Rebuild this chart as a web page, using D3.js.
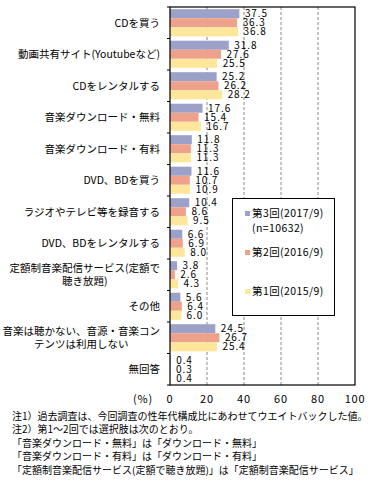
<!DOCTYPE html>
<html>
<head>
<meta charset="utf-8">
<script src="https://cdn.jsdelivr.net/npm/d3@7"></script>
<style>
  body { margin: 0; background: #fff; }
  svg { font-family: "Noto Sans CJK JP", sans-serif; }
  .val { font-size: 10px; letter-spacing: 0.9px; }
  .cat { font-size: 10.5px; }
  .leg { font-size: 10.5px; letter-spacing: 0.4px; }
  .tick-lbl { font-size: 11px; letter-spacing: 0.8px; }
  .note { font-size: 10px; }
</style>
</head>
<body>
<script>
// categories (multi-line labels split into lines)
var categories = [
    ["CDを買う"],
    ["動画共有サイト(Youtubeなど)"],
    ["CDをレンタルする"],
    ["音楽ダウンロード・無料"],
    ["音楽ダウンロード・有料"],
    ["DVD、BDを買う"],
    ["ラジオやテレビ等を録音する"],
    ["DVD、BDをレンタルする"],
    ["定額制音楽配信サービス(定額で", "聴き放題)"],
    ["その他"],
    ["音楽は聴かない、音源・音楽コン", "テンツは利用しない"],
    ["無回答"]
];

var round3 = [37.5, 31.8, 25.2, 17.6, 11.8, 11.6, 10.4, 6.6, 3.8, 5.6, 24.5, 0.4];
var round2 = [36.3, 27.6, 26.2, 15.4, 11.3, 10.7, 8.6, 6.9, 2.6, 6.4, 26.7, 0.3];
var round1 = [36.8, 25.5, 28.2, 16.7, 11.3, 10.9, 9.5, 8.0, 4.3, 6.0, 25.4, 0.4];

var seriesNames = ["第3回(2017/9)", "第2回(2016/9)", "第1回(2015/9)"];
var seriesColors = ["#9ba1c8", "#eea28c", "#fee69a"];
var xTicks = [0, 20, 40, 60, 80, 100];

var notes = [
    "注1）過去調査は、今回調査の性年代構成比にあわせてウエイトバックした値。",
    "注2）第1～2回では選択肢は次のとおり。",
    "「音楽ダウンロード・無料」は「ダウンロード・無料」",
    "「音楽ダウンロード・有料」は「ダウンロード・有料」",
    "「定額制音楽配信サービス(定額で聴き放題)」は「定額制音楽配信サービス」"
];

var width = 371, height = 482;
var margin = {top: 7, left: 170};
var plotW = 185, plotH = 378;

var svg = d3.select("body").append("svg")
    .attr("width", width)
    .attr("height", height);

var g = svg.append("g")
    .attr("transform", "translate(" + margin.left + "," + margin.top + ")");

var xScale = d3.scaleLinear().domain([0, 100]).range([0, plotW]);
var yScale = d3.scaleBand()
    .domain(d3.range(categories.length))
    .range([0, plotH]);
var inner = d3.scaleBand()
    .domain([0, 1, 2])
    .range([2.2, yScale.bandwidth() - 2.2]);

// dashed gridlines
g.selectAll(".grid")
    .data(xTicks.slice(1, -1))
    .enter()
    .append("line")
    .attr("x1", function(d) { return xScale(d); })
    .attr("x2", function(d) { return xScale(d); })
    .attr("y1", 0)
    .attr("y2", plotH)
    .attr("stroke", "#888")
    .attr("stroke-dasharray", "3,2");

// bars + value labels, one series at a time
var allSeries = [round3, round2, round1];
allSeries.forEach(function(vals, s) {
    var grp = g.append("g");
    grp.selectAll("rect")
        .data(vals)
        .enter()
        .append("rect")
        .attr("x", 0)
        .attr("y", function(d, i) { return yScale(i) + inner(s); })
        .attr("width", function(d) { return xScale(d); })
        .attr("height", inner.bandwidth())
        .attr("fill", seriesColors[s]);
    grp.selectAll("text")
        .data(vals)
        .enter()
        .append("text")
        .attr("class", "val")
        .attr("x", function(d) { return xScale(d) + 5.5; })
        .attr("y", function(d, i) { return yScale(i) + inner(s) + inner.bandwidth() / 2; })
        .attr("dy", "0.36em")
        .text(function(d) { return d.toFixed(1); });
});

// frame
g.append("rect")
    .attr("width", plotW)
    .attr("height", plotH)
    .attr("fill", "none")
    .attr("stroke", "#000")
    .attr("stroke-width", 1.2);

// left tick marks at group boundaries
g.selectAll(".ytick")
    .data(d3.range(categories.length + 1))
    .enter()
    .append("line")
    .attr("x1", -3)
    .attr("x2", 0)
    .attr("y1", function(d) { return d * yScale.step(); })
    .attr("y2", function(d) { return d * yScale.step(); })
    .attr("stroke", "#000");

// category labels
var labelRight = -10;
categories.forEach(function(lines, i) {
    var t = g.append("text")
        .attr("class", "cat")
        .attr("text-anchor", "middle");
    var cy = yScale(i) + yScale.bandwidth() / 2;
    var lh = 13.5;
    lines.forEach(function(line, k) {
        t.append("tspan")
            .attr("y", cy + (k - (lines.length - 1) / 2) * lh)
            .attr("dy", "0.36em")
            .text(line);
    });
    // center the block, right aligned by its longest line
    var maxW = 0;
    t.selectAll("tspan").each(function() {
        maxW = Math.max(maxW, this.getComputedTextLength());
    });
    t.selectAll("tspan").attr("x", labelRight - maxW / 2);
});

// x axis labels
g.selectAll(".tick-lbl")
    .data(xTicks)
    .enter()
    .append("text")
    .attr("class", "tick-lbl")
    .attr("x", function(d) { return xScale(d); })
    .attr("y", plotH + 14)
    .attr("dy", "0.36em")
    .attr("text-anchor", "middle")
    .text(function(d) { return d; });

g.append("text")
    .attr("class", "tick-lbl")
    .attr("x", -27)
    .attr("y", plotH + 14)
    .attr("dy", "0.36em")
    .attr("text-anchor", "middle")
    .text("(%)");

// legend
var legend = svg.append("g")
    .attr("transform", "translate(232.5,198.5)");
legend.append("rect")
    .attr("width", 102)
    .attr("height", 117)
    .attr("fill", "#fff")
    .attr("stroke", "#000");
var legendY = [15, 54, 93];
seriesNames.forEach(function(name, s) {
    legend.append("rect")
        .attr("x", 12.5)
        .attr("y", legendY[s] - 2.5)
        .attr("width", 5)
        .attr("height", 5)
        .attr("fill", seriesColors[s]);
    legend.append("text")
        .attr("class", "leg")
        .attr("x", 19.5)
        .attr("y", legendY[s])
        .attr("dy", "0.36em")
        .text(name);
});
legend.append("text")
    .attr("class", "leg")
    .attr("x", 19.5)
    .attr("y", 30)
    .attr("dy", "0.36em")
    .text("(n=10632)");

// notes
svg.selectAll(".note")
    .data(notes)
    .enter()
    .append("text")
    .attr("class", "note")
    .attr("x", 12)
    .attr("y", function(d, i) { return 416 + i * 13.5; })
    .attr("dy", "0.36em")
    .text(function(d) { return d; });
</script>
</body>
</html>
